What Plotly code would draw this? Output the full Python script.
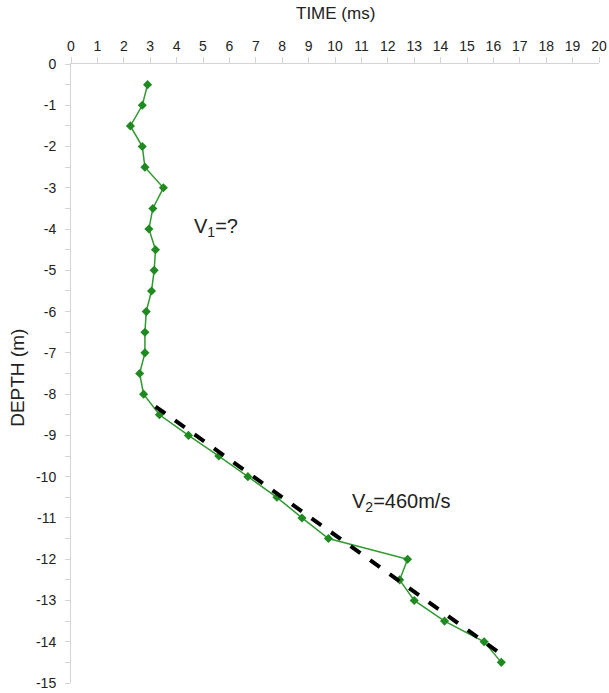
import plotly.graph_objects as go

depth = [-0.5, -1, -1.5, -2, -2.5, -3, -3.5, -4, -4.5, -5, -5.5, -6, -6.5, -7, -7.5,
         -8, -8.5, -9, -9.5, -10, -10.5, -11, -11.5, -12, -12.5, -13, -13.5, -14, -14.5]
time_ms = [2.9, 2.7, 2.25, 2.7, 2.8, 3.5, 3.1, 2.95, 3.2, 3.15, 3.05, 2.85, 2.8, 2.8, 2.6,
           2.75, 3.35, 4.45, 5.6, 6.7, 7.8, 8.75, 9.75, 12.75, 12.45, 13.0, 14.15, 15.65, 16.3]

fit_time = [3.2, 16.3]
fit_depth = [-8.3, -14.3]

x_ticks = list(range(0, 21))
y_ticks = list(range(-15, 1))

font_family = "Liberation Sans, Arial, sans-serif"

fig = go.Figure()
fig.add_trace(go.Scatter(
    x=time_ms, y=depth, mode="lines+markers",
    line=dict(color="#2f9a2f", width=1.5),
    marker=dict(symbol="diamond", size=7, color="#1f8a1f"),
    showlegend=False, hoverinfo="skip"))
fig.add_trace(go.Scatter(
    x=fit_time, y=fit_depth, mode="lines",
    line=dict(color="black", width=4, dash="dash"),
    showlegend=False, hoverinfo="skip"))

fig.update_layout(
    width=609, height=693,
    margin=dict(l=71, r=10, t=64, b=10),
    paper_bgcolor="white", plot_bgcolor="white",
    font=dict(family=font_family, size=14, color="#222"),
    xaxis=dict(
        side="top", range=[0, 20], tickvals=x_ticks,
        ticktext=[str(v) for v in x_ticks],
        showgrid=False, zeroline=False, automargin=False,
        showline=True, linecolor="#d4d4d4", linewidth=1,
        ticks="outside", ticklen=6, tickcolor="#d4d4d4",
        tickfont=dict(size=14, color="#222"),
    ),
    yaxis=dict(
        range=[-15, 0], tickvals=y_ticks,
        ticktext=[str(v) for v in y_ticks],
        showgrid=False, zeroline=False, automargin=False,
        showline=True, linecolor="#d4d4d4", linewidth=1,
        ticks="outside", ticklen=5, tickcolor="#d4d4d4",
        minor=dict(dtick=0.5, ticks="outside", ticklen=5, tickcolor="#d4d4d4", showgrid=False),
        tickfont=dict(size=14, color="#222"),
        ticklabelstandoff=6,
    ),
    annotations=[
        dict(text="TIME (ms)", xref="paper", yref="paper", x=0.5, y=1.0808,
             xanchor="center", yanchor="middle", showarrow=False,
             font=dict(size=17, color="#222")),
        dict(text="DEPTH (m)", xref="paper", yref="paper", x=-0.1004, y=0.493,
             xanchor="center", yanchor="middle", showarrow=False, textangle=-90,
             font=dict(size=19, color="#222")),
        dict(text="V<sub>1</sub>=?", x=5.51, y=-3.95, xref="x", yref="y",
             showarrow=False, xanchor="center", yanchor="middle",
             font=dict(size=20, color="#222")),
        dict(text="V<sub>2</sub>=460m/s", x=12.5, y=-10.62, xref="x", yref="y",
             showarrow=False, xanchor="center", yanchor="middle",
             font=dict(size=20, color="#222")),
    ],
)

fig.write_html("out.html",
               config={"displayModeBar": False, "staticPlot": True},
               post_script="document.body.style.margin='0';document.body.style.overflow='hidden';")
